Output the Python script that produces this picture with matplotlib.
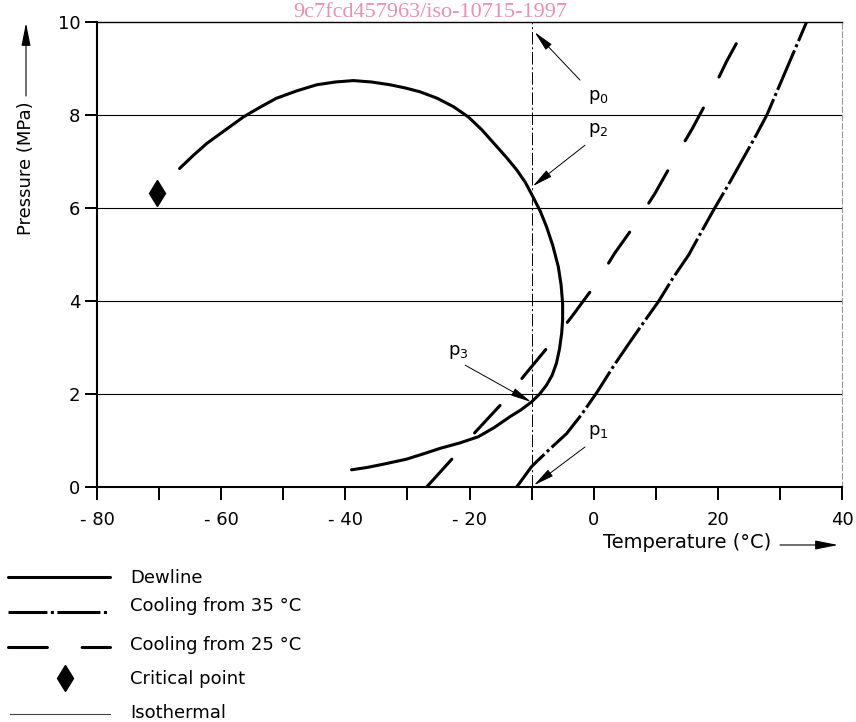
import matplotlib
matplotlib.use("Agg")
import matplotlib.pyplot as plt

plt.rcParams["font.family"] = ["DejaVu Sans"]
plt.rcParams["lines.scale_dashes"] = False

# ── Data ─────────────────────────────────────────────────────────────────────
dew_T = [-66.7, -64.5, -62.3, -59.3, -56.4, -53.7, -51.1, -47.8, -44.6, -41.6,
         -38.7, -35.8, -32.8, -30.3, -28.0, -25.2, -22.6, -20.2, -18.0, -15.6,
         -14.0, -12.4, -11.0, -9.7, -8.6, -7.6, -6.6, -5.7, -5.25, -5.0,
         -5.0, -5.15, -5.5, -6.0, -6.7, -7.6, -8.7, -10.0, -11.7, -13.5,
         -16.0, -18.6, -21.5, -24.75, -27.5, -30.1, -33.9, -36.5, -39.0]
dew_P = [6.85, 7.13, 7.39, 7.68, 7.96, 8.17, 8.36, 8.52, 8.65, 8.71,
         8.74, 8.71, 8.65, 8.58, 8.50, 8.36, 8.18, 7.96, 7.68, 7.32,
         7.08, 6.82, 6.55, 6.22, 5.93, 5.60, 5.20, 4.74, 4.35, 3.95,
         3.60, 3.31, 2.97, 2.66, 2.40, 2.19, 2.00, 1.83, 1.66, 1.51,
         1.28, 1.08, 0.95, 0.83, 0.71, 0.60, 0.49, 0.42, 0.37]

cool35_T = [-12.4, -10.0, -7.2, -4.35, -2.0, 0.6, 3.2, 5.85, 8.1, 10.4, 12.8,
            15.3, 17.4, 19.5, 21.7, 23.8, 25.9, 27.9, 29.5, 31.1, 32.7, 34.3]
cool35_P = [0.0, 0.44, 0.80, 1.15, 1.55, 2.05, 2.60, 3.12, 3.55, 3.98, 4.50,
            4.99, 5.50, 6.0, 6.50, 7.0, 7.50, 8.0, 8.50, 9.0, 9.50, 10.0]

cool25_T = [-26.9, -22.9, -19.0, -14.9, -11.1, -7.2, -3.55, 0.05, 3.4, 6.8,
            9.9, 12.9, 15.9, 18.8, 21.4, 24.3]
cool25_P = [0.0, 0.59, 1.19, 1.78, 2.41, 3.04, 3.66, 4.31, 5.03, 5.67,
            6.32, 7.03, 7.71, 8.43, 9.15, 9.86]

crit_T, crit_P = -70.3, 6.32
isotherm_T = -10

x_ticks = [-80, -60, -40, -20, 0, 20, 40]
x_labels = ["- 80", "- 60", "- 40", "- 20", "0", "20", "40"]
y_ticks = [0, 2, 4, 6, 8, 10]

# label, (tip T, tip P), (tail T, tail P), (text T, text P)
pointers = [
    ("p$_0$", (-9.5, 9.78), (-2.2, 8.75), (0.7, 8.39)),
    ("p$_2$", (-9.8, 6.47), (-1.4, 7.35), (0.7, 7.68)),
    ("p$_3$", (-10.1, 1.83), (-20.7, 2.62), (-21.8, 2.9)),
    ("p$_1$", (-9.6, 0.04), (-1.4, 0.86), (0.7, 1.18)),
]

LW = 2.2
DASH25 = (0, (27, 25))
DASHDOT35 = (0, (31, 2.5, 2.2, 2.5))
ISO_STYLE = (0, (9, 2, 1.5, 2))

# ── Figure ───────────────────────────────────────────────────────────────────
W, H = 856, 722
fig = plt.figure(figsize=(W / 100, H / 100), dpi=100)
ax = fig.add_axes([97 / W, 1 - 487 / H, (842 - 97) / W, (487 - 22) / H])

for p in y_ticks[1:-1]:
    ax.axhline(p, color="black", lw=0.8, zorder=1)
ax.plot([isotherm_T, isotherm_T], [0, 10], color="black", lw=0.7,
        linestyle=ISO_STYLE, zorder=1)

ax.plot(dew_T, dew_P, color="black", lw=LW, solid_capstyle="round",
        solid_joinstyle="round", zorder=3)
ax.plot(cool35_T, cool35_P, color="black", lw=LW, linestyle=DASHDOT35,
        dash_capstyle="butt", zorder=3)
ax.plot(cool25_T, cool25_P, color="black", lw=LW, linestyle=DASH25,
        dash_capstyle="round", zorder=3)
ax.plot([crit_T], [crit_P], marker="d", color="black", markersize=13, zorder=4)

for label, tip, tail, txt in pointers:
    ax.annotate("", xy=tip, xytext=tail,
                arrowprops=dict(arrowstyle="-|>,head_length=0.9,head_width=0.18",
                                color="black", lw=0.7, shrinkA=0, shrinkB=0,
                                mutation_scale=14))
    ax.text(txt[0], txt[1], label, fontsize=13, ha="center", va="center")

ax.set_xlim(-80, 40)
ax.set_ylim(0, 10)
ax.set_xticks(x_ticks)
ax.set_xticklabels(x_labels)
ax.set_xticks(range(-70, 40, 20), minor=True)
ax.set_yticks(y_ticks)
ax.tick_params(axis="both", which="both", direction="out", length=9, width=1.4,
               labelsize=13, colors="black")
ax.tick_params(axis="x", pad=8)
ax.tick_params(axis="y", pad=3)

ax.spines["left"].set_linewidth(1.5)
ax.spines["bottom"].set_linewidth(1.5)
ax.spines["top"].set_linewidth(1.0)
ax.spines["right"].set_linewidth(0.8)
ax.spines["right"].set_color("#999999")
ax.spines["right"].set_linestyle((0, (4, 2)))

# axis titles with arrows
arrow_kw = dict(arrowstyle="-|>,head_length=1.0,head_width=0.2",
                color="black", lw=0.8, shrinkA=0, shrinkB=0, mutation_scale=14)
fig.text(26 / W, 1 - 168 / H, "Pressure (MPa)", rotation=90, fontsize=13,
         ha="center", va="center")
ax.annotate("", xy=(26, H - 23), xytext=(26, H - 96), xycoords="figure pixels",
            textcoords="figure pixels", arrowprops=arrow_kw)
fig.text(603 / W, 1 - 543 / H, "Temperature (°C)", fontsize=14,
         ha="left", va="center")
ax.annotate("", xy=(838, H - 545), xytext=(780, H - 545), xycoords="figure pixels",
            textcoords="figure pixels", arrowprops=arrow_kw)

# watermark
fig.text(430 / W, 1 - 17 / H, "9c7fcd457963/iso-10715-1997", fontsize=16,
         family=["Liberation Serif", "DejaVu Serif"], color="#ef8fb0",
         ha="center", va="baseline")

# ── Legend block below the plot (figure pixel coordinates) ──────────────────
lax = fig.add_axes([0, 0, 1, 1], zorder=-1)
lax.set_xlim(0, W)
lax.set_ylim(H, 0)
lax.axis("off")

lax.plot([8, 110], [577, 577], color="black", lw=LW, solid_capstyle="round")
lax.plot([8, 110], [612, 612], color="black", lw=LW, linestyle=(3, (31, 2.5, 2.2, 2.5)),
         dash_capstyle="butt")
lax.plot([8, 110], [647, 647], color="black", lw=LW, linestyle=(0, (28, 25)),
         dash_capstyle="round")
lax.plot([65], [678], marker="d", color="black", markersize=13)
lax.plot([10, 110], [714, 714], color="#444444", lw=0.8)

legend_labels = ["Dewline", "Cooling from 35 °C", "Cooling from 25 °C",
                 "Critical point", "Isothermal"]
legend_y = [578, 606, 645, 679, 713]
for txt, y in zip(legend_labels, legend_y):
    lax.text(130, y, txt, fontsize=13, ha="left", va="center")

fig.savefig("out.png", dpi=100)
